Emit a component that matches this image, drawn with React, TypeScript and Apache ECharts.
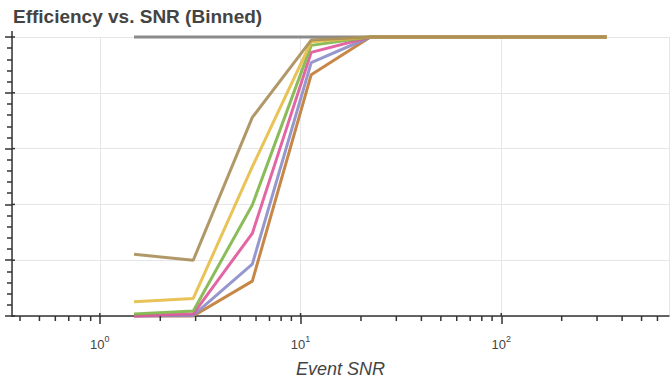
import React, { useEffect, useRef } from "react";
import * as echarts from "echarts";

const snr = [1.48, 2.92, 5.75, 11.3, 22.3, 43.9, 86.5, 170, 335];
const seriesNames = ["all", "s6", "s5", "s4", "s3", "s2", "s1"];
const grey = [1, 1, 1, 1, 1, 1, 1, 1, 1];
const orange = [0, 0, 0.125, 0.865, 1, 1, 1, 1, 1];
const purple = [0, 0.002, 0.186, 0.908, 1, 1, 1, 1, 1];
const pink = [0, 0.008, 0.296, 0.945, 1, 1, 1, 1, 1];
const green = [0.007, 0.018, 0.398, 0.97, 1, 1, 1, 1, 1];
const yellow = [0.051, 0.063, 0.535, 0.983, 1, 1, 1, 1, 1];
const tan = [0.221, 0.2, 0.712, 0.989, 1, 1, 1, 1, 1];
const seriesValues = [grey, orange, purple, pink, green, yellow, tan];
const seriesColors = ["#7f7f7f", "#c07a33", "#8b8dc8", "#e0559a", "#7db548", "#e6bc45", "#a88d58"];

const xMajorTicks = [1, 10, 100];
const xMinorTicks = [0.4, 0.5, 0.6, 0.7, 0.8, 0.9, 2, 3, 4, 5, 6, 7, 8, 9, 20, 30, 40, 50, 60, 70, 80, 90, 200, 300, 400, 500, 600];
const yMajorTicks = [0, 0.2, 0.4, 0.6, 0.8, 1.0];

const X_MIN = 0.365;
const X_MAX = 685;
const AXIS = "#333";
const FONT = "Liberation Sans";

export default function App() {
  const ref = useRef<HTMLDivElement>(null);
  useEffect(() => {
    document.body.style.margin = "0";
    const chart = echarts.init(ref.current!, null, { renderer: "svg" });
    const lines = seriesValues.map((vals, i) => ({
      name: seriesNames[i],
      type: "line",
      data: vals.map((v, j) => [snr[j], v]),
      showSymbol: false,
      symbol: "none",
      clip: false,
      lineStyle: { color: seriesColors[i], width: 3, opacity: 0.9 },
      itemStyle: { color: seriesColors[i] },
      z: 3,
    }));
    chart.setOption({
      animation: false,
      textStyle: { fontFamily: FONT },
      title: {
        text: "Efficiency vs. SNR (Binned)",
        left: 8,
        top: 2,
        textStyle: { fontSize: 19, fontWeight: "bold", color: "#444", fontFamily: FONT },
      },
      grid: { left: 12, right: 3, top: 37, bottom: 63, outerBoundsMode: "none", containLabel: false },
      xAxis: {
        type: "log",
        logBase: 10,
        min: X_MIN,
        max: X_MAX,
        name: "Event SNR",
        nameLocation: "middle",
        nameGap: 44,
        nameTextStyle: { fontSize: 18, lineHeight: 18, fontStyle: "italic", color: "#444", fontFamily: FONT },
        axisLine: { lineStyle: { color: AXIS, width: 1.5 } },
        axisTick: { length: 8, lineStyle: { color: AXIS, width: 1.5 } },
        axisLabel: {
          showMinLabel: false,
          showMaxLabel: false,
          margin: 18,
          fontSize: 13,
          color: "#444",
          formatter: (v: number) => {
            const e = Math.round(Math.log10(v));
            return `{b|10}{s|${e}}`;
          },
          rich: {
            b: { fontSize: 13, color: "#444", verticalAlign: "bottom", lineHeight: 17, fontFamily: FONT },
            s: { fontSize: 9, color: "#444", verticalAlign: "top", lineHeight: 17, fontFamily: FONT },
          },
        },
        splitLine: { show: true, lineStyle: { color: "#e6e6e6", width: 1 } },
      },
      yAxis: {
        type: "value",
        min: 0,
        max: 1,
        interval: 0.2,
        axisLine: { show: true, lineStyle: { color: AXIS, width: 1.5 } },
        axisTick: { show: true, length: 7, lineStyle: { color: AXIS, width: 1.5 } },
        minorTick: { show: true, splitNumber: 5, length: 5, lineStyle: { color: AXIS, width: 1.5 } },
        axisLabel: { show: false },
        splitLine: { show: true, lineStyle: { color: "#e6e6e6", width: 1 } },
      },
      graphic: [
        { type: "line", shape: { x1: 12, y1: 31, x2: 12, y2: 37 }, style: { stroke: AXIS, lineWidth: 1.5 }, z: 10 },
      ],
      series: [
        ...lines,
        {
          type: "custom",
          name: "xminor",
          clip: false,
          silent: true,
          z: 5,
          data: xMinorTicks.map((v) => [v]),
          encode: { x: 0 },
          renderItem: (params: any, api: any) => {
            const p = api.coord([api.value(0), 0]);
            return {
              type: "line",
              shape: { x1: p[0], y1: p[1], x2: p[0], y2: p[1] + 5 },
              style: { stroke: AXIS, lineWidth: 1.5 },
            };
          },
        },
        {
          type: "custom",
          name: "xmajorin",
          clip: false,
          silent: true,
          z: 5,
          data: xMajorTicks.map((v) => [v]),
          encode: { x: 0 },
          renderItem: (params: any, api: any) => {
            const p = api.coord([api.value(0), 0]);
            return {
              type: "line",
              shape: { x1: p[0], y1: p[1], x2: p[0], y2: p[1] - 3 },
              style: { stroke: AXIS, lineWidth: 1.5 },
            };
          },
        },
        {
          type: "custom",
          name: "ymajorin",
          clip: false,
          silent: true,
          z: 5,
          data: yMajorTicks.map((v) => [X_MIN, v]),
          encode: { x: 0, y: 1 },
          renderItem: (params: any, api: any) => {
            const p = api.coord([api.value(0), api.value(1)]);
            return {
              type: "line",
              shape: { x1: p[0], y1: p[1], x2: p[0] + 3, y2: p[1] },
              style: { stroke: AXIS, lineWidth: 1.5 },
            };
          },
        },
      ],
    });
    return () => chart.dispose();
  }, []);
  return <div ref={ref} style={{ width: 672, height: 379 }} />;
}
